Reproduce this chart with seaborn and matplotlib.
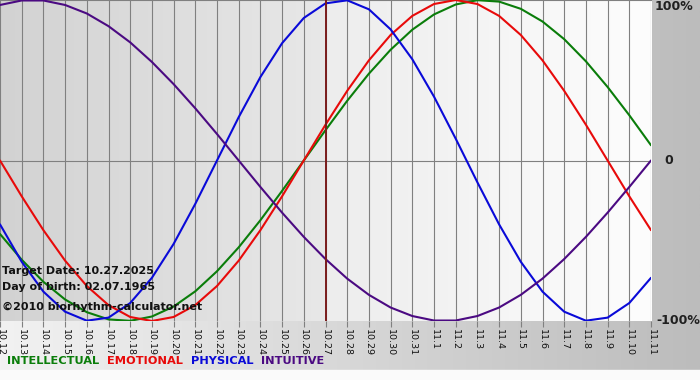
import numpy as np
import pandas as pd
import matplotlib
matplotlib.use("Agg")
import matplotlib.pyplot as plt
import seaborn as sns
from matplotlib.colors import LinearSegmentedColormap

# dias mostrados (10.12 -> 11.11), dia objetivo = 10.27
dates = ["10.12", "10.13", "10.14", "10.15", "10.16", "10.17", "10.18", "10.19",
         "10.20", "10.21", "10.22", "10.23", "10.24", "10.25", "10.26", "10.27",
         "10.28", "10.29", "10.30", "10.31", "11.1", "11.2", "11.3", "11.4",
         "11.5", "11.6", "11.7", "11.8", "11.9", "11.10", "11.11"]
target_label = "10.27"

# valores (-1 .. 1)
intellectual = [-0.458, -0.618, -0.756, -0.866, -0.945, -0.990, -0.999, -0.972,
                -0.910, -0.815, -0.690, -0.541, -0.372, -0.189, 0.0, 0.189,
                0.372, 0.541, 0.690, 0.815, 0.910, 0.972, 0.999, 0.990,
                0.945, 0.866, 0.756, 0.618, 0.458, 0.282, 0.095]
emotional = [0.0, -0.223, -0.434, -0.624, -0.782, -0.901, -0.975, -1.0,
             -0.975, -0.901, -0.782, -0.624, -0.434, -0.223, 0.0, 0.223,
             0.434, 0.624, 0.782, 0.901, 0.975, 1.0, 0.975, 0.901,
             0.782, 0.624, 0.434, 0.223, 0.0, -0.223, -0.434]
physical = [-0.398, -0.631, -0.817, -0.942, -0.998, -0.979, -0.888, -0.731,
            -0.520, -0.270, 0.0, 0.270, 0.520, 0.731, 0.888, 0.979,
            0.998, 0.942, 0.817, 0.631, 0.398, 0.136, -0.136, -0.398,
            -0.631, -0.817, -0.942, -0.998, -0.979, -0.888, -0.731]
intuitive = [0.969, 0.997, 0.997, 0.969, 0.916, 0.837, 0.736, 0.614,
             0.476, 0.325, 0.165, 0.0, -0.165, -0.325, -0.476, -0.614,
             -0.736, -0.837, -0.916, -0.969, -0.997, -0.997, -0.969, -0.916,
             -0.837, -0.736, -0.614, -0.476, -0.325, -0.165, 0.0]

series_names = ["INTELLECTUAL", "EMOTIONAL", "PHYSICAL", "INTUITIVE"]
colors = ["#0a7d0a", "#e80a0a", "#0a0ad8", "#4b0a82"]

x = np.arange(len(dates))
target_x = dates.index(target_label)

df = pd.concat([
    pd.DataFrame({"x": x, "value": vals, "cycle": name})
    for name, vals in zip(series_names, [intellectual, emotional, physical, intuitive])
])

sns.set_style("white")
plt.rcParams["font.family"] = ["DejaVu Sans"]

fig = plt.figure(figsize=(7, 3.8), dpi=100)

# fondo de la figura: degradado gris
bg = fig.add_axes([0, 0, 1, 1], zorder=-10)
bg_cmap = LinearSegmentedColormap.from_list("bg", ["#f2f2f2", "#bcbcbc"])
bg.imshow(np.linspace(0, 1, 256)[None, :], aspect="auto", cmap=bg_cmap,
          extent=[0, 1, 0, 1])
bg.axhspan(0, 10 / 380, color="#fafafa")
bg.set_xlim(0, 1)
bg.set_ylim(0, 1)
bg.axis("off")

ax = fig.add_axes([0, 1 - 321 / 380, 651 / 700, 321 / 380])
xmin, xmax = x[0], x[-1]

# fondo del area: mas oscuro antes del dia objetivo
left_cmap = LinearSegmentedColormap.from_list("l", ["#d2d2d2", "#e8e8e8"])
right_cmap = LinearSegmentedColormap.from_list("r", ["#ededed", "#fdfdfd"])
grad = np.linspace(0, 1, 256)[None, :]
ax.imshow(grad, aspect="auto", cmap=left_cmap, extent=[xmin, target_x, -1, 1], zorder=0)
ax.imshow(grad, aspect="auto", cmap=right_cmap, extent=[target_x, xmax, -1, 1], zorder=0)

for xi in x:
    ax.axvline(xi, color="#808080", lw=0.8, zorder=1)
ax.axhline(0, color="#808080", lw=0.8, zorder=1)

sns.lineplot(data=df, x="x", y="value", hue="cycle", palette=colors,
             hue_order=series_names, lw=1.5, legend=False, ax=ax, zorder=3)

ax.axvline(target_x, color="#7a1c1c", lw=1.4, zorder=4)

ax.set_xlim(xmin, xmax)
ax.set_ylim(-1.0, 1.0)
ax.set_xticks(x)
ax.set_xticklabels(dates, rotation=270, fontsize=6.8, color="#111111")
ax.tick_params(axis="x", direction="out", length=4, width=0.8, color="#808080",
               pad=1.5, bottom=True)
ax.set_yticks([])
ax.set_xlabel("")
ax.set_ylabel("")
for side in ["left", "right", "bottom"]:
    ax.spines[side].set_visible(False)
ax.spines["top"].set_color("#808080")
ax.spines["top"].set_linewidth(0.8)

# etiquetas de porcentaje a la derecha
ax.text(1.006, 1.0, "100%", transform=ax.transAxes, fontsize=9, fontweight="bold",
        ha="left", va="top", color="#202020")
ax.text(1.02, 0.5, "0", transform=ax.transAxes, fontsize=9, fontweight="bold",
        ha="left", va="center", color="#202020")
ax.text(1.009, 0.0, "-100%", transform=ax.transAxes, fontsize=9, fontweight="bold",
        ha="left", va="center", color="#202020")

# textos informativos
ax.text(0.003, 0.155, "Target Date: 10.27.2025", transform=ax.transAxes,
        fontsize=8, fontweight="bold", color="#111111", va="center", zorder=5)
ax.text(0.003, 0.107, "Day of birth: 02.07.1965", transform=ax.transAxes,
        fontsize=8, fontweight="bold", color="#111111", va="center", zorder=5)
ax.text(0.003, 0.045, "\u00a92010 biorhythm-calculator.net", transform=ax.transAxes,
        fontsize=8, fontweight="bold", color="#111111", va="center", zorder=5)

# leyenda en texto de colores
lx = 7 / 700
for name, c in zip(series_names, colors):
    t = fig.text(lx, 1 - 361 / 380, name, color=c, fontsize=8.2, fontweight="bold",
                 va="center", ha="left")
    fig.canvas.draw()
    bb = t.get_window_extent()
    lx = (bb.x1 + 8) / 700

fig.savefig("out.png", dpi=100)
